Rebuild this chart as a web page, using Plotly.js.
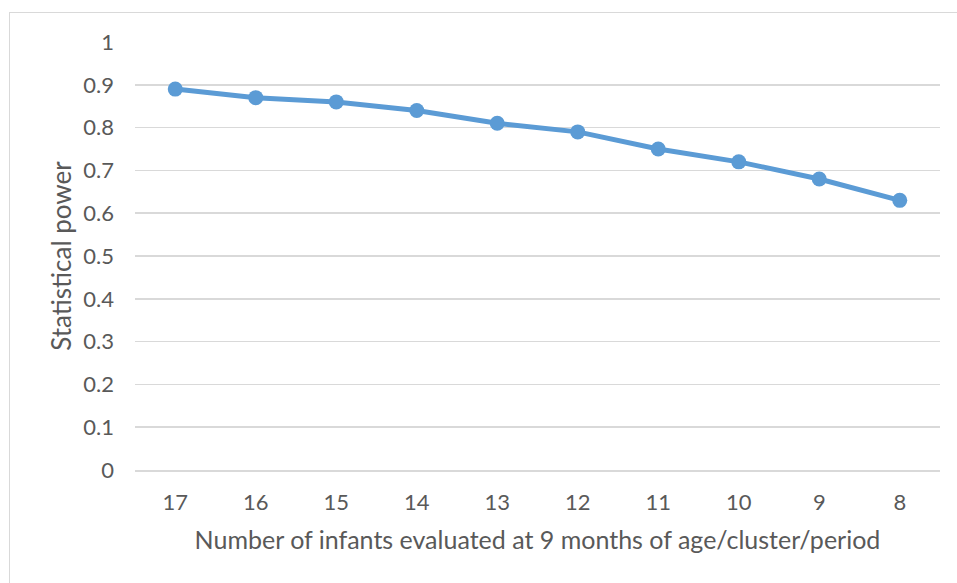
<!DOCTYPE html>
<html>
<head>
<meta charset="utf-8">
<script src="https://cdn.plot.ly/plotly-3.0.1.min.js"></script>
<style>
html,body{margin:0;padding:0;background:#fff;}
#wrap{position:relative;width:957px;height:583px;}
#chart{width:957px;height:583px;}
#frame{position:absolute;left:9px;top:12px;width:1000px;height:700px;border:1px solid #d9d9d9;pointer-events:none;}
</style>
</head>
<body>
<div id="wrap"><div id="chart"></div><div id="frame"></div></div>
<script>
const categories = ['17','16','15','14','13','12','11','10','9','8'];
const power = [0.89, 0.87, 0.86, 0.84, 0.81, 0.79, 0.75, 0.72, 0.68, 0.63];
const yTicks = [0,0.1,0.2,0.3,0.4,0.5,0.6,0.7,0.8,0.9,1];
const yTickText = ['0','0.1','0.2','0.3','0.4','0.5','0.6','0.7','0.8','0.9','1'];

const font = 'Lato, "Open Sans", sans-serif';
const trace = {
  x: categories, y: power, type: 'scatter', mode: 'lines+markers',
  line: {color: '#5B9BD5', width: 5},
  marker: {color: '#5B9BD5', size: 15},
  hoverinfo: 'x+y'
};
const layout = {
  width: 957, height: 583,
  margin: {l: 135, r: 17, t: 42, b: 113},
  paper_bgcolor: '#ffffff', plot_bgcolor: '#ffffff',
  showlegend: false,
  font: {family: font, color: '#595959', size: 22},
  xaxis: {
    type: 'category', categoryorder: 'array', categoryarray: categories,
    range: [-0.5, categories.length - 0.5], autorange: false,
    showgrid: false, zeroline: false,
    showline: true, linecolor: '#d9d9d9', linewidth: 1.5,
    ticks: '', ticklabelstandoff: 12,
    tickfont: {family: font, size: 22, color: '#595959'},
    title: {text: 'Number of infants evaluated at 9 months of age/cluster/period', font: {family: font, size: 25, color: '#595959'}, standoff: 17}
  },
  yaxis: {
    range: [0, 1], autorange: false, tickvals: yTicks, ticktext: yTickText,
    showgrid: true, gridcolor: '#d9d9d9', gridwidth: 1.5,
    zeroline: false, showline: false, ticks: '', ticklabelstandoff: 20,
    tickfont: {family: font, size: 22, color: '#595959'},
    title: {text: 'Statistical power', font: {family: font, size: 26, color: '#595959'}, standoff: 4}
  }
};
Plotly.newPlot('chart', [trace], layout, {displayModeBar: false, staticPlot: true});
</script>
</body>
</html>
